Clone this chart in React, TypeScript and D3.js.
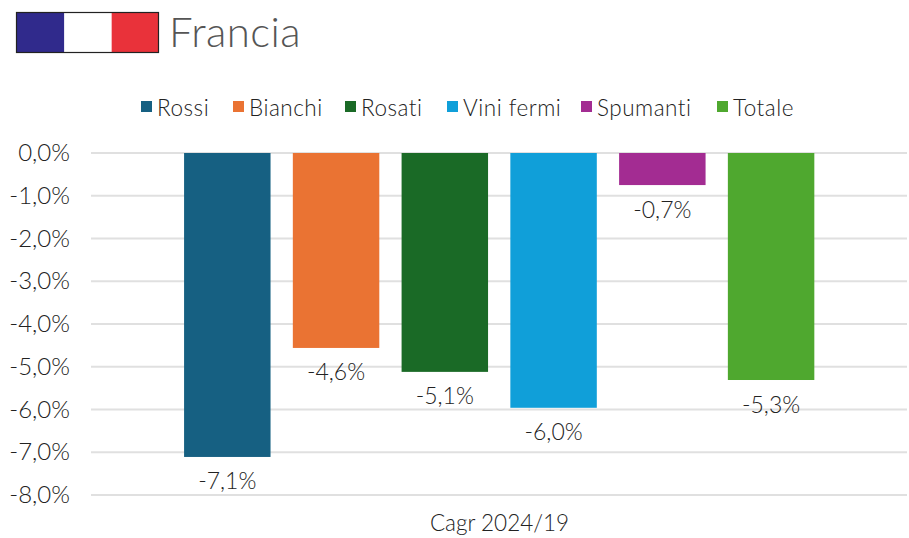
import React from "react";
import * as d3 from "d3";

const categories = ["Rossi", "Bianchi", "Rosati", "Vini fermi", "Spumanti", "Totale"];
const values = [-7.11, -4.56, -5.12, -5.96, -0.75, -5.31];
const valueLabels = ["-7,1%", "-4,6%", "-5,1%", "-6,0%", "-0,7%", "-5,3%"];
const colors = ["#166082", "#ea7333", "#1a6a26", "#109fd9", "#a32c92", "#4fa82f"];
const yTicks = [0, -1, -2, -3, -4, -5, -6, -7, -8];
const legendX = [141, 233, 345, 447, 581, 717];
const flagColors = ["#302a8c", "#ffffff", "#e9323a"];
const title = "Francia";
const axisTitle = "Cagr 2024/19";

const FONT = "Lato, 'Open Sans', sans-serif";
const INK = "#222222";

export default function App() {
  const y = d3.scaleLinear().domain([0, -8]).range([153, 495]);
  const x = d3.scaleBand<string>().domain(categories).range([173.2, 825.2]).paddingInner(0.205).paddingOuter(0.1);
  const flagX = d3.scaleBand<string>().domain(flagColors).range([17, 159]);
  const fmtTick = (v: number) => d3.format(".1f")(v).replace(".", ",").replace("−", "-") + "%";
  return (
    <svg width={909} height={538} style={{ position: "absolute", left: 0, top: 0, background: "#fff" }} fontFamily={FONT}>
      {flagColors.map((c) => (
        <rect key={c} x={flagX(c)} y={13} width={flagX.bandwidth()} height={39} fill={c} />
      ))}
      <rect x={16.5} y={12.5} width={142} height={40} fill="none" stroke="#222" strokeWidth={1.2} />
      <text x={169} y={47} fontSize={42} fontWeight={300} letterSpacing={0.4} fill="#555">{title}</text>

      {categories.map((c, i) => (
        <g key={c}>
          <rect x={legendX[i]} y={101} width={11} height={11} fill={colors[i]} />
          <text x={legendX[i] + 16} y={115.5} fontSize={22.5} fontWeight={300} letterSpacing={0.5} fill={INK}>{c}</text>
        </g>
      ))}

      {yTicks.map((t) => (
        <g key={t}>
          <line x1={91} x2={907} y1={y(t)} y2={y(t)} stroke="#e0e0e0" strokeWidth={2} />
          <text x={70} y={y(t) + 8} fontSize={24} fontWeight={300} textAnchor="end" fill={INK}>{fmtTick(t)}</text>
        </g>
      ))}

      {categories.map((c, i) => (
        <g key={c}>
          <rect x={x(c)} y={y(0)} width={x.bandwidth()} height={y(values[i]) - y(0)} fill={colors[i]} />
          <text x={x(c)! + x.bandwidth() / 2} y={y(values[i]) + 32.5} fontSize={23} fontWeight={300} textAnchor="middle" fill={INK}>{valueLabels[i]}</text>
        </g>
      ))}

      <text x={499.5} y={530.5} fontSize={22.5} fontWeight={300} textAnchor="middle" fill={INK}>{axisTitle}</text>
    </svg>
  );
}
